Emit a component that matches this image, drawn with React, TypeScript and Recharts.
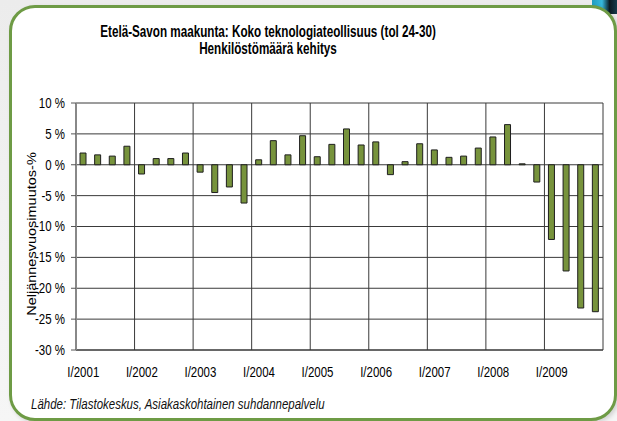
import React from "react";
import { BarChart, Bar, XAxis, YAxis, CartesianGrid } from "recharts";

const quarterLabels = [
  "I/2001", "II/2001", "III/2001", "IV/2001",
  "I/2002", "II/2002", "III/2002", "IV/2002",
  "I/2003", "II/2003", "III/2003", "IV/2003",
  "I/2004", "II/2004", "III/2004", "IV/2004",
  "I/2005", "II/2005", "III/2005", "IV/2005",
  "I/2006", "II/2006", "III/2006", "IV/2006",
  "I/2007", "II/2007", "III/2007", "IV/2007",
  "I/2008", "II/2008", "III/2008", "IV/2008",
  "I/2009", "II/2009", "III/2009", "IV/2009",
];

const changePct = [
  1.9, 1.6, 1.4, 3.0,
  -1.5, 1.0, 1.0, 1.9,
  -1.2, -4.5, -3.6, -6.2,
  0.8, 3.9, 1.6, 4.7,
  1.3, 3.3, 5.8, 3.2,
  3.7, -1.6, 0.5, 3.4,
  2.4, 1.2, 1.4, 2.7,
  4.5, 6.5, 0.15, -2.8,
  -12.1, -17.2, -23.2, -23.8,
];

const yearTickLabels = ["I/2001", "I/2002", "I/2003", "I/2004", "I/2005", "I/2006", "I/2007", "I/2008", "I/2009"];
const yTicks = [-30, -25, -20, -15, -10, -5, 0, 5, 10];

const data = quarterLabels.map((q, i) => ({ i, q, v: changePct[i] }));
const xTicks = yearTickLabels.map((_, k) => k * 4);
const yearBounds = [...yearTickLabels.map((_, k) => k * 4 - 0.5), quarterLabels.length - 0.5];

const FONT = "'Liberation Sans', Arial, sans-serif";
const SQUEEZE = 0.82;

function XTick(props: any) {
  const { x, y, payload } = props;
  const label = yearTickLabels[Math.round(payload.value / 4)];
  return (
    <text
      transform={`translate(${x},${y}) scale(${SQUEEZE},1)`}
      textAnchor="middle"
      dy="0.71em"
      fontFamily={FONT}
      fontSize={14}
      fill="#000"
    >
      {label}
    </text>
  );
}

function YTick(props: any) {
  const { x, y, payload } = props;
  return (
    <text
      transform={`translate(${x},${y}) scale(${SQUEEZE},1)`}
      textAnchor="end"
      dy="0.355em"
      fontFamily={FONT}
      fontSize={14}
      fill="#000"
    >
      {`${payload.value} %`}
    </text>
  );
}

export default function App() {
  return (
    <div
      style={{
        position: "absolute",
        left: 0,
        top: 0,
        width: 617,
        height: 421,
        overflow: "hidden",
        background: "linear-gradient(#ececec, #f6f6f6)",
      }}
    >
      <div
        style={{
          position: "absolute",
          left: 592,
          top: 0,
          width: 25,
          height: 14,
          background: "linear-gradient(90deg, #1f9cc0 0%, #36b8dc 40%, #0b1a22 70%, #163c4c 100%)",
        }}
      />
      <div
        style={{
          position: "absolute",
          left: 9,
          top: 5,
          width: 608,
          height: 416,
          boxSizing: "border-box",
          border: "3px solid #6E9B45",
          borderRadius: 26,
          background: "#ffffff",
          boxShadow: "2px 2px 4px rgba(0,0,0,0.15)",
        }}
      />
      <div
        style={{
          position: "absolute",
          left: 268,
          top: 23,
          transform: "translateX(-50%) scaleX(0.73)",
          whiteSpace: "nowrap",
          textAlign: "center",
          fontFamily: FONT,
          fontWeight: "bold",
          fontSize: 16,
          lineHeight: "17px",
          color: "#000",
        }}
      >
        <div>Etelä-Savon maakunta: Koko teknologiateollisuus (tol 24-30)</div>
        <div>Henkilöstömäärä kehitys</div>
      </div>
      <BarChart
        width={617}
        height={421}
        data={data}
        margin={{ top: 103, right: 14, bottom: 41, left: 16 }}
        style={{ position: "absolute", left: 0, top: 0 }}
      >
        <CartesianGrid
          stroke="#3a3a3a"
          strokeWidth={1}
          verticalCoordinatesGenerator={(props: any) => {
            const s = props?.xAxis?.scale;
            if (typeof s === "function") return yearBounds.map((b) => s(b));
            const off = props.offset;
            return yearBounds.map((b) => off.left + ((b + 0.5) / quarterLabels.length) * off.width);
          }}
        />
        <XAxis
          type="number"
          dataKey="i"
          domain={[-0.5, quarterLabels.length - 0.5]}
          ticks={xTicks}
          interval={0}
          tickLine={false}
          tickMargin={11}
          axisLine={{ stroke: "#333", strokeWidth: 1 }}
          height={30}
          tick={<XTick />}
        />
        <YAxis
          type="number"
          domain={[-30, 10]}
          ticks={yTicks}
          interval={0}
          width={60}
          tickSize={5}
          tickMargin={6}
          tickLine={{ stroke: "#555" }}
          axisLine={{ stroke: "#888", strokeWidth: 2 }}
          tick={<YTick />}
        />
        <Bar dataKey="v" fill="#77933C" stroke="#1e1e1e" strokeWidth={1} barSize={6} isAnimationActive={false} />
      </BarChart>
      <div
        style={{
          position: "absolute",
          left: 32,
          top: 234,
          transform: `translate(-50%, -50%) scaleX(${SQUEEZE}) rotate(-90deg)`,
          whiteSpace: "nowrap",
          fontFamily: FONT,
          fontSize: 14.5,
          color: "#000",
        }}
      >
        Neljännesvuosimuutos-%
      </div>
      <div
        style={{
          position: "absolute",
          left: 31,
          top: 396,
          transform: `scaleX(${SQUEEZE})`,
          transformOrigin: "left center",
          whiteSpace: "nowrap",
          fontFamily: FONT,
          fontStyle: "italic",
          fontSize: 14,
          color: "#111",
        }}
      >
        Lähde: Tilastokeskus, Asiakaskohtainen suhdannepalvelu
      </div>
    </div>
  );
}
